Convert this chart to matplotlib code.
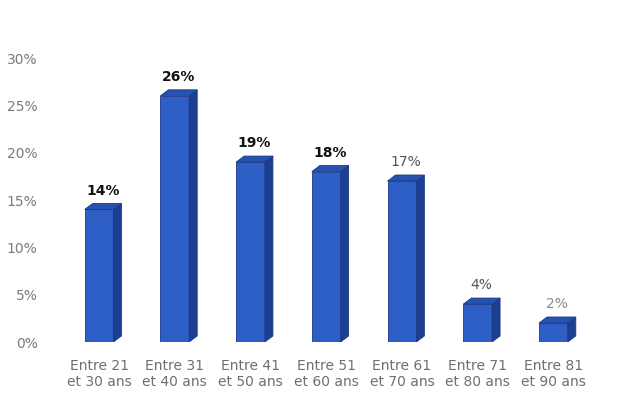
import matplotlib
matplotlib.use("Agg")
import matplotlib.pyplot as plt
from matplotlib.patches import Polygon

categories = ["Entre 21\net 30 ans", "Entre 31\net 40 ans", "Entre 41\net 50 ans",
              "Entre 51\net 60 ans", "Entre 61\net 70 ans", "Entre 71\net 80 ans",
              "Entre 81\net 90 ans"]
values = [14, 26, 19, 18, 17, 4, 2]
labels = ["14%", "26%", "19%", "18%", "17%", "4%", "2%"]
yticks = [0, 5, 10, 15, 20, 25, 30]

# label styling (scan is darker/bolder on the first four)
label_colors = ["#111111", "#111111", "#111111", "#111111", "#555555", "#555555", "#8a8a8a"]
label_weights = ["bold", "bold", "bold", "bold", "normal", "normal", "normal"]

FRONT = "#2e5fc6"
SIDE = "#1d3f91"
TOP = "#2852b0"
EDGE = "#1a3a86"

width = 0.38
dx = 0.106   # depth offset, in category units
dy = 0.64    # depth offset, in percent units

fig = plt.figure(figsize=(6.31, 4.0), dpi=100)
ax = fig.add_axes([0.097, 0.145, 0.84, 0.71])

xs = list(range(len(values)))
ax.bar(xs, values, width=width, color=FRONT, edgecolor=EDGE, linewidth=0.6, zorder=3)

for x, v in zip(xs, values):
    l, r = x - width / 2, x + width / 2
    side = Polygon([(r, 0), (r + dx, dy), (r + dx, v + dy), (r, v)],
                   closed=True, facecolor=SIDE, edgecolor=EDGE, linewidth=0.6, zorder=3)
    top = Polygon([(l, v), (l + dx, v + dy), (r + dx, v + dy), (r, v)],
                  closed=True, facecolor=TOP, edgecolor=EDGE, linewidth=0.6, zorder=3)
    ax.add_patch(side)
    ax.add_patch(top)

for x, v, t, c, w in zip(xs, values, labels, label_colors, label_weights):
    ax.text(x + dx / 2, v + dy + 0.6, t, ha="center", va="bottom",
            fontsize=10, color=c, fontweight=w, zorder=4)

ax.set_xlim(-0.5, len(values) - 0.5)
ax.set_ylim(0, 30)
ax.set_yticks(yticks)
ax.set_yticklabels([f"{t}%" for t in yticks])
ax.set_xticks(xs)
ax.set_xticklabels(categories)
ax.tick_params(axis="y", length=0, pad=17, labelsize=10, labelcolor="#7a7a7a")
ax.tick_params(axis="x", length=0, pad=12, labelsize=10, labelcolor="#6f6f6f")
for s in ax.spines.values():
    s.set_visible(False)

fig.savefig("out.png", dpi=100, facecolor="white")
